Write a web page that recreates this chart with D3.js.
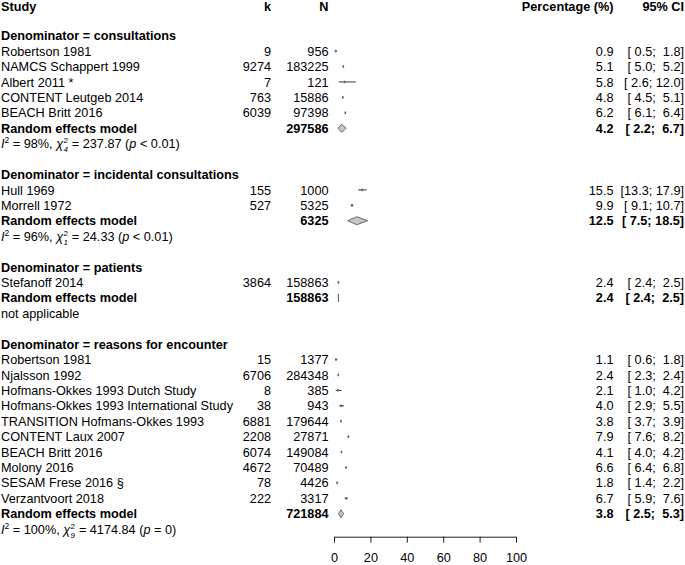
<!DOCTYPE html>
<html><head><meta charset="utf-8">
<script src="https://cdn.jsdelivr.net/npm/d3@7"></script>
<style>
html,body{margin:0;padding:0;background:#fff;}
</style></head>
<body>
<svg id="chart" width="685" height="565"></svg>
<script>
// ---------- data ----------
const groupTitles = ["Denominator = consultations","Denominator = incidental consultations","Denominator = patients","Denominator = reasons for encounter"];
const studyGroup = [0,0,0,0,0, 1,1, 2, 3,3,3,3,3,3,3,3,3,3];
const studyLabels = ["Robertson 1981","NAMCS Schappert 1999","Albert 2011 *","CONTENT Leutgeb 2014","BEACH Britt 2016",
  "Hull 1969","Morrell 1972",
  "Stefanoff 2014",
  "Robertson 1981","Njalsson 1992","Hofmans-Okkes 1993 Dutch Study","Hofmans-Okkes 1993 International Study","TRANSITION Hofmans-Okkes 1993","CONTENT Laux 2007","BEACH Britt 2016","Molony 2016","SESAM Frese 2016 §","Verzantvoort 2018"];
const studyK = [9,9274,7,763,6039, 155,527, 3864, 15,6706,8,38,6881,2208,6074,4672,78,222];
const studyN = [956,183225,121,15886,97398, 1000,5325, 158863, 1377,284348,385,943,179644,27871,149084,70489,4426,3317];
const studyEst = [0.9,5.1,5.8,4.8,6.2, 15.5,9.9, 2.4, 1.1,2.4,2.1,4.0,3.8,7.9,4.1,6.6,1.8,6.7];
const studyLo  = [0.5,5.0,2.6,4.5,6.1, 13.3,9.1, 2.4, 0.6,2.3,1.0,2.9,3.7,7.6,4.0,6.4,1.4,5.9];
const studyHi  = [1.8,5.2,12.0,5.1,6.4, 17.9,10.7, 2.5, 1.8,2.4,4.2,5.5,3.9,8.2,4.2,6.8,2.2,7.6];
const poolN   = [297586,6325,158863,721884];
const poolEst = [4.2,12.5,2.4,3.8];
const poolLo  = [2.2,7.5,2.4,2.5];
const poolHi  = [6.7,18.5,2.5,5.3];
// heterogeneity: null => "not applicable"
const hetI2 = ["98%","96%",null,"100%"];
const hetDf = ["4","1",null,"9"];
const hetQ  = ["237.87","24.33",null,"4174.84"];
const hetP  = ["< 0.01","< 0.01",null,"= 0"];
const axisTicks = [0,20,40,60,80,100];
const headers = ["Study","k","N","Percentage (%)","95% CI"];

// ---------- layout ----------
const FONT = "Liberation Sans";
const FS = 12.7;
const svg = d3.select("#chart").attr("font-family", FONT).attr("font-size", FS);
const x = d3.scaleLinear().domain([0,100]).range([334,516]);
const row0 = 35.7, rowH = 15.42;
const ry = i => row0 + rowH*i;
const colLabel = 1, colK = 271, colN = 328.5, colPct = 613.5, colCI = 684;
const fmtCI = (l,h) => "[" + l.toFixed(1).padStart(4," ") + "; " + h.toFixed(1).padStart(4," ") + "]";

const rows = [];
let r = 0;
groupTitles.forEach((g,gi) => {
  rows.push({type:"title", text:g, row:r++});
  studyGroup.forEach((sg,si) => { if (sg===gi) rows.push({type:"study", i:si, row:r++}); });
  rows.push({type:"pool", i:gi, row:r++});
  rows.push({type:"het", i:gi, row:r++});
  r++;
});

const txt = (xp, yp, s, anchor, bold) => svg.append("text")
  .attr("x", xp).attr("y", yp + 4.6)
  .attr("font-family", FONT).attr("font-size", FS)
  .attr("text-anchor", anchor||"start")
  .attr("font-weight", bold ? "bold" : null)
  .attr("fill", "#000")
  .style("white-space","pre")
  .text(s);

// headers
const hy = ry(-2) + 1.2;
txt(colLabel, hy, headers[0], "start", true);
txt(colK, hy, headers[1], "end", true);
txt(colN, hy, headers[2], "end", true);
txt(colPct, hy, headers[3], "end", true);
txt(colCI, hy, headers[4], "end", true);

const marks = svg.append("g");

rows.forEach(d => {
  const y = ry(d.row);
  if (d.type === "title") {
    txt(colLabel, y, d.text, "start", true);
  } else if (d.type === "study") {
    const i = d.i;
    txt(colLabel, y, studyLabels[i]);
    txt(colK, y, String(studyK[i]), "end");
    txt(colN, y, String(studyN[i]), "end");
    txt(colPct, y, studyEst[i].toFixed(1), "end");
    txt(colCI, y, fmtCI(studyLo[i], studyHi[i]), "end");
    marks.append("line").attr("x1", x(studyLo[i])).attr("x2", x(studyHi[i]))
      .attr("y1", y).attr("y2", y).attr("stroke","#333").attr("stroke-width",1);
    const sw = 1.6, sh = 2.6;
    marks.append("rect").attr("x", x(studyEst[i]) - sw/2).attr("y", y - sh/2)
      .attr("width", sw).attr("height", sh).attr("fill","#666");
  } else if (d.type === "pool") {
    const i = d.i;
    txt(colLabel, y, "Random effects model", "start", true);
    txt(colN, y, String(poolN[i]), "end", true);
    txt(colPct, y, poolEst[i].toFixed(1), "end", true);
    txt(colCI, y, fmtCI(poolLo[i], poolHi[i]), "end", true);
    const h = 4;
    const pts = [[x(poolLo[i]), y],[x(poolEst[i]), y-h],[x(poolHi[i]), y],[x(poolEst[i]), y+h]];
    marks.append("polygon").attr("points", pts.map(p=>p.join(",")).join(" "))
      .attr("fill","#c6c6c6").attr("stroke","#6a6a6a").attr("stroke-width",1);
  } else if (d.type === "het") {
    const i = d.i;
    if (hetI2[i] === null) {
      txt(colLabel, y, "not applicable");
    } else {
      const b = y + 4.6;
      const t = svg.append("text").attr("x", colLabel).attr("y", b)
        .attr("font-family", FONT).attr("font-size", FS).attr("fill","#000");
      t.append("tspan").attr("font-style","italic").text("I");
      t.append("tspan").attr("font-size","8.5px").attr("dy","-5").text("2");
      t.append("tspan").attr("dy","5").text(" = " + hetI2[i] + ", ");
      t.append("tspan").attr("font-style","italic").text("χ");
      const chiEnd = t.node().getComputedTextLength() + colLabel;
      // stacked superscript / subscript after chi
      svg.append("text").attr("x", chiEnd + 0.3).attr("y", b - 5)
        .attr("font-family", FONT).attr("font-size", 8).attr("fill","#000").text("2");
      svg.append("text").attr("x", chiEnd + 0.3).attr("y", b + 3.8)
        .attr("font-family", FONT).attr("font-size", 8).attr("font-style","italic").attr("fill","#000").text(hetDf[i]);
      const t2 = svg.append("text").attr("x", chiEnd + 5.2).attr("y", b)
        .attr("font-family", FONT).attr("font-size", FS).attr("fill","#000").style("white-space","pre");
      t2.append("tspan").text(" = " + hetQ[i] + " (");
      t2.append("tspan").attr("font-style","italic").text("p");
      t2.append("tspan").text(" " + hetP[i] + ")");
    }
  }
});

// axis
const axisY = 536.7;
const ax = svg.append("g").attr("transform", `translate(0,${axisY})`)
  .call(d3.axisBottom(x).tickValues(axisTicks).tickSize(6).tickPadding(10).tickSizeOuter(0));
ax.attr("font-family", FONT).attr("font-size", FS);
ax.select(".domain").attr("stroke","#222");
ax.selectAll(".tick line").attr("stroke","#222");
ax.selectAll(".tick text").attr("fill","#000");
</script>
</body></html>
